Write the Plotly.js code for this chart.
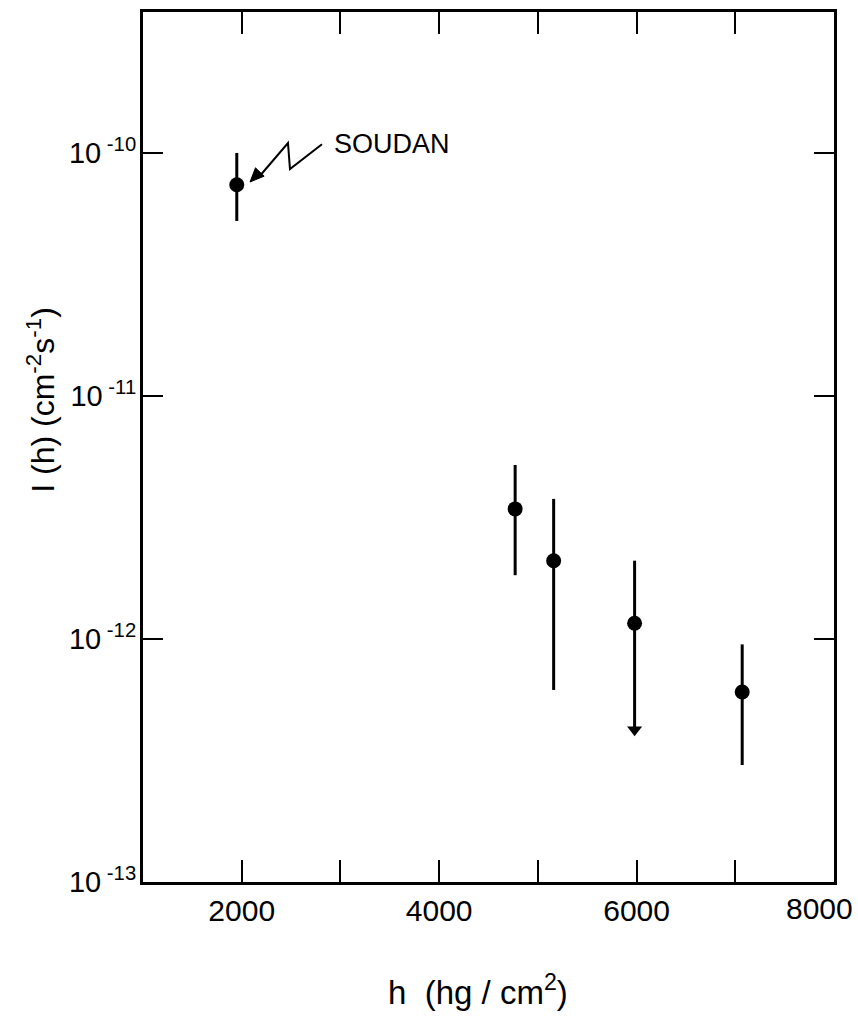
<!DOCTYPE html>
<html>
<head>
<meta charset="utf-8">
<script src="https://cdn.plot.ly/plotly-3.0.1.min.js"></script>
<style>html,body{margin:0;padding:0;background:#fff;}#chart{width:858px;height:1028px;}</style>
</head>
<body>
<div id="chart"></div>
<script>
// Depth h (hg/cm^2)
const depth = [1950, 4770, 5160, 5980, 7070];
// Intensity I(h) (cm^-2 s^-1)
const intensity = [7.4e-11, 3.43e-12, 2.1e-12, 1.16e-12, 6.05e-13];
const upperBound = [1.0e-10, 5.2e-12, 3.77e-12, 2.1e-12, 9.5e-13];
const lowerBound = [5.25e-11, 1.83e-12, 6.17e-13, 4.23e-13, 3.03e-13];
const isUpperLimit = [false, false, false, true, false];
const xTickVals = [2000, 4000, 6000];
const xTickText = ['2000', '4000', '6000'];
const xMinorTickVals = [1000, 3000, 5000, 7000, 8000];
const xEdgeLabel = '8000';
const yTickVals = [1e-13, 1e-12, 1e-11, 1e-10];
const yTickText = ['10<sup> -13</sup>', '10<sup> -12</sup>', '10<sup> -11</sup>', '10<sup> -10</sup>'];
const soudanLabel = 'SOUDAN';

const FONT = 'Liberation Sans, Arial, Helvetica, sans-serif';

const errPlus = intensity.map((v, i) => upperBound[i] - v);
const errMinus = intensity.map((v, i) => v - lowerBound[i]);

const points = {
  x: depth, y: intensity, type: 'scatter', mode: 'markers',
  marker: {color: '#000', size: 15, symbol: 'circle'},
  error_y: {type: 'data', symmetric: false, array: errPlus, arrayminus: errMinus,
            color: '#000', thickness: 3, width: 0},
  showlegend: false, hoverinfo: 'x+y'
};
const limX = depth.filter((d, i) => isUpperLimit[i]);
const limY = lowerBound.filter((d, i) => isUpperLimit[i]);
const arrows = {
  x: limX, y: limY, type: 'scatter', mode: 'markers',
  marker: {color: '#000', size: 13, symbol: 'triangle-down'},
  showlegend: false, hoverinfo: 'skip'
};

const layout = {
  width: 858, height: 1028,
  margin: {l: 143, r: 24, t: 12, b: 146},
  paper_bgcolor: '#fff', plot_bgcolor: '#fff',
  font: {family: FONT, color: '#000', size: 30},
  showlegend: false,
  xaxis: {
    type: 'linear', range: [1000, 8000],
    tickvals: xTickVals, ticktext: xTickText,
    ticks: 'inside', ticklen: 22, tickwidth: 2, tickcolor: '#000',
    minor: {tickvals: xMinorTickVals, ticks: 'inside', ticklen: 22, tickwidth: 2, tickcolor: '#000', showgrid: false},
    showline: true, linewidth: 3, linecolor: '#000', mirror: 'ticks',
    showgrid: false, zeroline: false,
    tickfont: {family: FONT, size: 30, color: '#000'}
  },
  yaxis: {
    type: 'log', range: [-13, -9.42],
    tickvals: yTickVals, ticktext: yTickText,
    ticks: 'inside', ticklen: 20, tickwidth: 2, tickcolor: '#000',
    ticklabelstandoff: -2,
    showline: true, linewidth: 3, linecolor: '#000', mirror: 'ticks',
    showgrid: false, zeroline: false,
    tickfont: {family: FONT, size: 29, color: '#000'}
  },
  annotations: [
    {text: xEdgeLabel, xref: 'paper', yref: 'paper', x: 0.9797, y: -0.031,
     xanchor: 'center', yanchor: 'middle', showarrow: false, font: {family: FONT, size: 30}},
    {text: 'h  (hg / cm<sup>2</sup>)', xref: 'paper', yref: 'paper', x: 0.485, y: -0.124,
     xanchor: 'center', yanchor: 'middle', showarrow: false, font: {family: FONT, size: 33}},
    {text: 'I (h) (cm<sup>-2</sup>s<sup>-1</sup>)', xref: 'paper', yref: 'paper', x: -0.148, y: 0.554,
     xanchor: 'center', yanchor: 'middle', textangle: -90, showarrow: false, font: {family: FONT, size: 32}},
    {text: soudanLabel, xref: 'paper', yref: 'paper', x: 0.274, y: 0.848,
     xanchor: 'left', yanchor: 'middle', showarrow: false, font: {family: FONT, size: 27}}
  ],
  shapes: [
    {type: 'path', xref: 'paper', yref: 'paper',
     path: 'M 0.259 0.848 L 0.2127 0.8195 L 0.2098 0.8494 L 0.1690 0.8115',
     line: {color: '#000', width: 2}},
    {type: 'path', xref: 'paper', yref: 'paper',
     path: 'M 0.1549 0.8046 L 0.1753 0.8113 L 0.1628 0.8209 Z',
     fillcolor: '#000', line: {color: '#000', width: 1}}
  ]
};

Plotly.newPlot('chart', [points, arrows], layout, {displayModeBar: false, staticPlot: true});
</script>
</body>
</html>
